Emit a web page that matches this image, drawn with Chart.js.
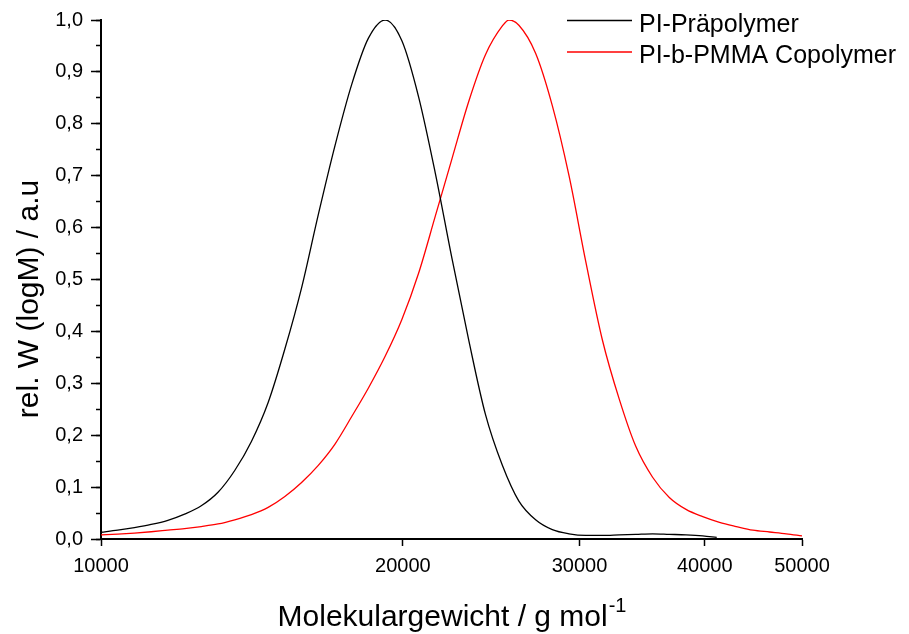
<!DOCTYPE html>
<html>
<head>
<meta charset="utf-8">
<script src="https://cdn.jsdelivr.net/npm/chart.js@4.4.0/dist/chart.umd.min.js"></script>
<style>
html, body { margin: 0; padding: 0; background: #fff; }
</style>
</head>
<body>
<canvas id="mycanvas" width="909" height="634"></canvas>
<script>
// molecular weight (g/mol) and rel. W(logM)
var preM = [10000, 10391, 10798, 11220, 11659, 12115, 12589, 13082, 13594, 14125, 14678, 15252, 15849, 16469, 17113, 17783, 18478, 19201, 19953, 20733, 21544, 22387, 23263, 24173, 25119, 26102, 27123, 28184, 29286, 30432, 31623, 32860, 34145, 35481, 36869, 38312, 39811, 41110];
var preW = [0.013, 0.017, 0.022, 0.028, 0.036, 0.048, 0.064, 0.090, 0.132, 0.188, 0.263, 0.366, 0.484, 0.625, 0.758, 0.876, 0.965, 1.000, 0.960, 0.852, 0.705, 0.540, 0.383, 0.240, 0.143, 0.073, 0.037, 0.018, 0.010, 0.007, 0.007, 0.008, 0.009, 0.010, 0.009, 0.008, 0.006, 0.003];

var copoM = [10000, 10391, 10798, 11220, 11659, 12115, 12589, 13082, 13594, 14125, 14678, 15252, 15849, 16469, 17113, 17783, 18478, 19201, 19953, 20733, 21544, 22387, 23263, 24173, 25119, 25510, 26102, 27123, 28184, 29286, 30432, 31623, 32860, 34145, 35481, 36869, 38312, 39811, 41369, 42987, 44668, 46416, 48232, 50000];
var copoW = [0.008, 0.0095, 0.0115, 0.014, 0.017, 0.020, 0.024, 0.029, 0.037, 0.047, 0.061, 0.082, 0.109, 0.142, 0.183, 0.236, 0.291, 0.352, 0.423, 0.512, 0.622, 0.733, 0.843, 0.933, 0.988, 1.000, 0.990, 0.936, 0.835, 0.700, 0.535, 0.383, 0.270, 0.178, 0.119, 0.080, 0.057, 0.043, 0.032, 0.024, 0.017, 0.0135, 0.010, 0.006];

var seriesNames = ['PI-Präpolymer', 'PI-b-PMMA Copolymer'];
var xTicks = [10000, 20000, 30000, 40000, 50000];
var xTitle = 'Molekulargewicht / g mol';
var xTitleSup = '-1';
var yTitle = 'rel. W (logM) / a.u';

var FONT = '"Liberation Sans", Arial, sans-serif';

function pts(xs, ys) {
    return xs.map(function (v, i) { return {x: v, y: ys[i]}; });
}

// axis titles and legend drawn on top
var extras = {
    id: 'extras',
    afterDraw: function (chart) {
        var ctx = chart.ctx, area = chart.chartArea;
        ctx.save();
        ctx.fillStyle = '#000';
        ctx.textBaseline = 'alphabetic';

        ctx.font = '30px ' + FONT;
        var w1 = ctx.measureText(xTitle).width;
        ctx.font = '20px ' + FONT;
        var w2 = ctx.measureText(xTitleSup).width;
        var x0 = (area.left + area.right) / 2 - (w1 + w2) / 2;
        ctx.textAlign = 'left';
        ctx.font = '30px ' + FONT;
        ctx.fillText(xTitle, x0, 626);
        ctx.font = '20px ' + FONT;
        ctx.fillText(xTitleSup, x0 + w1 + 1, 612);

        ctx.save();
        ctx.translate(38, 299);
        ctx.rotate(-Math.PI / 2);
        ctx.textAlign = 'center';
        ctx.font = '30px ' + FONT;
        ctx.fillText(yTitle, 0, 0);
        ctx.restore();

        // legend
        ctx.font = '25px ' + FONT;
        ctx.textAlign = 'left';
        chart.data.datasets.forEach(function (ds, i) {
            var y = 20.5 + i * 31.5;
            ctx.strokeStyle = ds.borderColor;
            ctx.lineWidth = 1.3;
            ctx.beginPath();
            ctx.moveTo(567, y);
            ctx.lineTo(632, y);
            ctx.stroke();
            ctx.fillText(ds.label, 639, y + 11);
        });
        ctx.restore();
    }
};

var ctx_live = document.getElementById('mycanvas');
var myChart = new Chart(ctx_live, {
    type: 'line',
    data: {
        datasets: [
            {
                label: seriesNames[0],
                data: pts(preM, preW),
                borderColor: '#000000',
                borderWidth: 1.3,
                pointRadius: 0,
                cubicInterpolationMode: 'monotone',
                fill: false,
                yAxisID: 'y'
            },
            {
                label: seriesNames[1],
                data: pts(copoM, copoW),
                borderColor: '#ff0000',
                borderWidth: 1.3,
                pointRadius: 0,
                cubicInterpolationMode: 'monotone',
                fill: false,
                yAxisID: 'y'
            }
        ]
    },
    options: {
        responsive: false,
        animation: false,
        layout: { padding: { left: 0, right: 107, top: 20, bottom: 0 } },
        plugins: {
            legend: { display: false },
            tooltip: { enabled: false }
        },
        scales: {
            x: {
                type: 'logarithmic',
                min: 10000,
                max: 50000,
                afterBuildTicks: function (s) {
                    s.ticks = xTicks.map(function (v) { return {value: v}; });
                },
                afterFit: function (s) { s.height = 95; },
                ticks: {
                    autoSkip: false,
                    maxRotation: 0,
                    padding: 8,
                    color: '#000',
                    font: { family: FONT, size: 20 },
                    callback: function (v) { return String(v); }
                },
                grid: { drawOnChartArea: false, tickLength: 7, tickWidth: 1.5, tickColor: '#000' },
                border: { color: '#000', width: 2 }
            },
            y: {
                type: 'linear',
                position: 'left',
                weight: 1,
                min: 0,
                max: 1,
                afterFit: function (s) { s.width = 101; },
                ticks: {
                    stepSize: 0.1,
                    padding: 8,
                    color: '#000',
                    font: { family: FONT, size: 20 },
                    callback: function (v) { return v.toFixed(1).replace('.', ','); }
                },
                grid: { drawOnChartArea: false, tickLength: 10, tickWidth: 1.5, tickColor: '#000' },
                border: { color: '#000', width: 2 }
            },
            yMinor: {
                type: 'linear',
                position: 'left',
                weight: 0,
                min: 0,
                max: 1,
                afterFit: function (s) { s.width = 0; },
                ticks: { stepSize: 0.05, display: false },
                grid: { drawOnChartArea: false, tickLength: 5, tickWidth: 1.5, tickColor: '#000' },
                border: { display: false }
            }
        }
    },
    plugins: [extras]
});
</script>
</body>
</html>
